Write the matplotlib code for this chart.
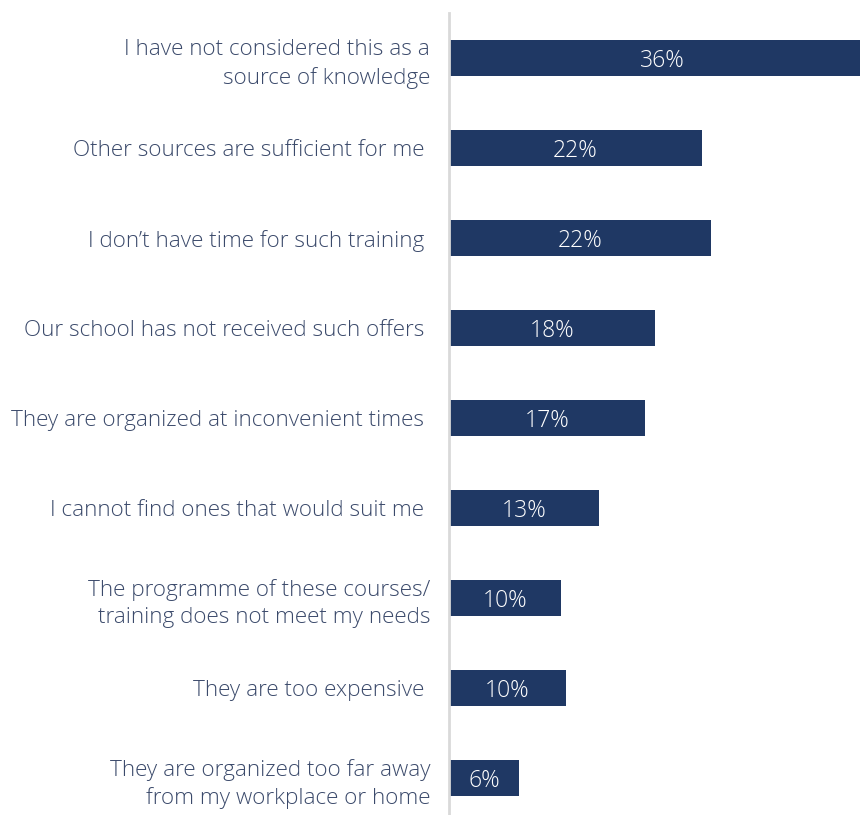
import matplotlib.pyplot as plt

reasons = [
    "I have not considered this as a\nsource of knowledge",
    "Other sources are sufficient for me ",
    "I don\u2019t have time for such training ",
    "Our school has not received such offers ",
    "They are organized at inconvenient times ",
    "I cannot find ones that would suit me ",
    "The programme of these courses/\ntraining does not meet my needs",
    "They are too expensive ",
    "They are organized too far away\nfrom my workplace or home",
]
shares = [36.4, 21.6, 22.4, 17.6, 16.7, 12.8, 9.6, 10.0, 6.0]

bar_color = "#1f3864"
text_color = "#3b4a6b"

plt.rcParams["font.family"] = ["Open Sans", "DejaVu Sans"]

fig = plt.figure(figsize=(8.6, 8.15), dpi=100)
ax = fig.add_axes([449 / 860, 0.0, 1 - 449 / 860, 1 - 13 / 815])

pos = list(range(len(reasons)))
ax.barh(pos, shares, height=0.4, color=bar_color, zorder=2)

for y, v in zip(pos, shares):
    ax.text(v / 2, y + 0.03, f"{v:.0f}%", ha="center", va="center",
            color="white", fontsize=16.5, fontweight="light", clip_on=True)

ax.set_xlim(0, 35.1)
ax.set_ylim(8.41, -0.5)
ax.set_yticks(pos)
ax.set_yticklabels(reasons, fontsize=16.2, color=text_color,
                   fontweight="light", linespacing=1.4)
ax.tick_params(axis="y", length=0, pad=13.5)
ax.set_xticks([])

for side in ["top", "right", "bottom"]:
    ax.spines[side].set_visible(False)
ax.spines["left"].set_color("#d9d9d9")
ax.spines["left"].set_linewidth(2)

fig.savefig("out.png", dpi=100)
